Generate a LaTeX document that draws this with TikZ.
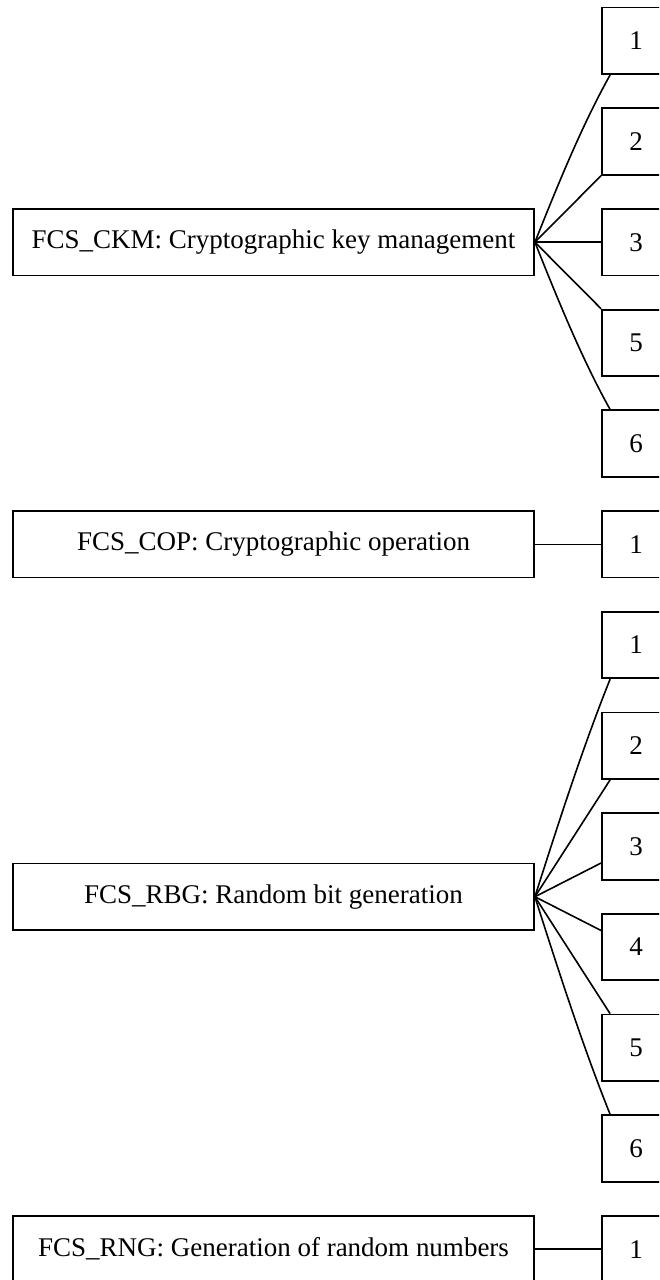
\documentclass[tikz,border=0pt]{standalone}
\usepackage{fontspec}
\setmainfont{Liberation Serif}
\begin{document}
\begin{tikzpicture}[x=1pt,y=-1pt,
  every node/.style={font=\fontsize{27}{32}\selectfont},
  leftbox/.style={draw,line width=1.8pt,minimum width=521pt,minimum height=66.5pt,inner sep=0pt},
  numbox/.style={draw,line width=1.8pt,minimum width=68pt,minimum height=66.5pt,inner sep=0pt},
  conn/.style={line width=1.6pt}]
\useasboundingbox (0,0) rectangle (659,1280);
\clip (0,0) rectangle (659,1280);
% right boxes
\node[numbox] (c1) at (636,40.8) {1};
\node[numbox] (c2) at (636,141.5) {2};
\node[numbox] (c3) at (636,242.2) {3};
\node[numbox] (c5) at (636,342.9) {5};
\node[numbox] (c6) at (636,443.6) {6};
\node[numbox] (p1) at (636,544.3) {1};
\node[numbox] (r1) at (636,645.0) {1};
\node[numbox] (r2) at (636,745.7) {2};
\node[numbox] (r3) at (636,846.4) {3};
\node[numbox] (r4) at (636,947.1) {4};
\node[numbox] (r5) at (636,1047.8) {5};
\node[numbox] (r6) at (636,1148.5) {6};
\node[numbox] (n1) at (636,1249.2) {1};
% left boxes
\node[leftbox] (ckm) at (273.5,242.2) {FCS\_CKM: Cryptographic key management};
\node[leftbox] (cop) at (273.5,544.3) {FCS\_COP: Cryptographic operation};
\node[leftbox] (rbg) at (273.5,896.75) {FCS\_RBG: Random bit generation};
\node[leftbox] (rng) at (273.5,1249.2) {FCS\_RNG: Generation of random numbers};
% connectors CKM
\draw[conn] (ckm.east) .. controls +(22,-55) and +(-29,52) .. ([xshift=9pt]c1.south west);
\draw[conn] (ckm.east) -- (c2.south west);
\draw[conn] (ckm.east) -- (c3.west);
\draw[conn] (ckm.east) -- (c5.north west);
\draw[conn] (ckm.east) .. controls +(22,55) and +(-29,-52) .. ([xshift=9pt]c6.north west);
% COP
\draw[conn] (cop.east) -- (p1.west);
% RBG
\draw[conn] (rbg.east) .. controls +(23,-72) and +(-28,70) .. ([xshift=9pt]r1.south west);
\draw[conn] (rbg.east) -- ([xshift=9pt]r2.south west);
\draw[conn] (rbg.east) -- ([yshift=-16.6pt]r3.west);
\draw[conn] (rbg.east) -- ([yshift=16.6pt]r4.west);
\draw[conn] (rbg.east) -- ([xshift=9pt]r5.north west);
\draw[conn] (rbg.east) .. controls +(23,72) and +(-28,-70) .. ([xshift=9pt]r6.north west);
% RNG
\draw[conn] (rng.east) -- (n1.west);
\end{tikzpicture}
\end{document}
